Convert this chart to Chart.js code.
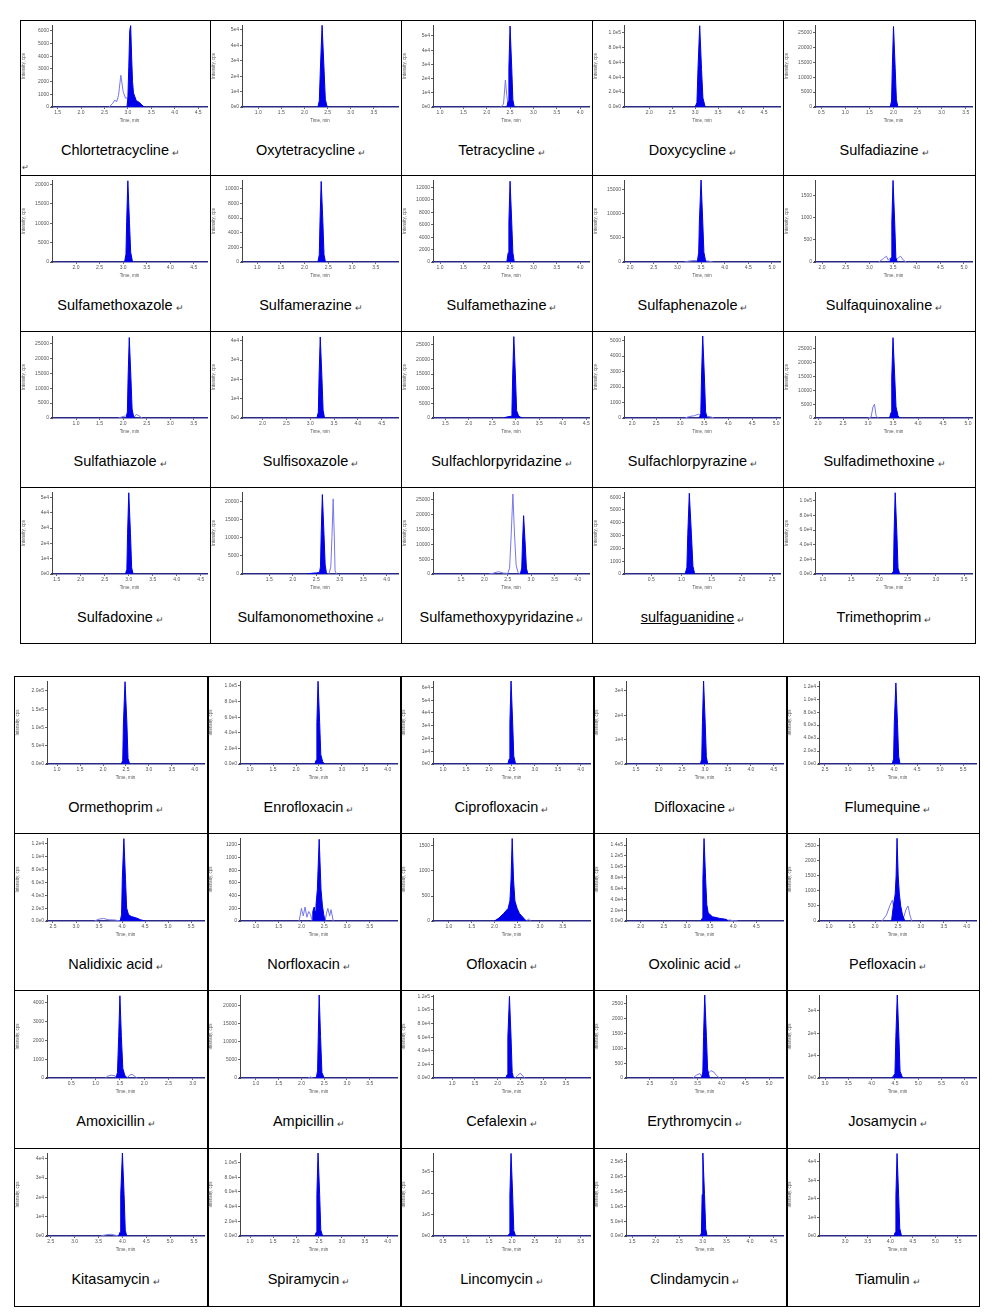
<!DOCTYPE html>
<html><head><meta charset="utf-8">
<script src="https://cdn.jsdelivr.net/npm/chart.js@4.4.1/dist/chart.umd.min.js"></script>
<style>
body{margin:0;background:#fff;width:997px;height:1314px;position:relative;overflow:hidden;font-family:"Liberation Sans",Arial,sans-serif}
.cell{position:absolute}
.cell canvas{position:absolute;left:1px;top:1px}
.lbl{position:absolute;left:0;right:0;text-align:center;font-size:14.5px;line-height:16px;color:#000;white-space:nowrap}
.nm{position:relative;display:inline-block}
.ret{position:absolute;left:100%;top:3px;font-size:9px;color:#444;margin-left:3px}
.ln{position:absolute;background:#000}
</style></head><body>
<script>
const chartNames=["Chlortetracycline","Oxytetracycline","Tetracycline","Doxycycline","Sulfadiazine",
"Sulfamethoxazole","Sulfamerazine","Sulfamethazine","Sulfaphenazole","Sulfaquinoxaline",
"Sulfathiazole","Sulfisoxazole","Sulfachlorpyridazine","Sulfachlorpyrazine","Sulfadimethoxine",
"Sulfadoxine","Sulfamonomethoxine","Sulfamethoxypyridazine","sulfaguanidine","Trimethoprim",
"Ormethoprim","Enrofloxacin","Ciprofloxacin","Difloxacine","Flumequine",
"Nalidixic acid","Norfloxacin","Ofloxacin","Oxolinic acid","Pefloxacin",
"Amoxicillin","Ampicillin","Cefalexin","Erythromycin","Josamycin",
"Kitasamycin","Spiramycin","Lincomycin","Clindamycin","Tiamulin"];

const xRanges=[[1.38,4.69],[0.65,4.02],[0.85,4.19],[1.45,4.85],[0.37,3.63],
[1.49,4.78],[0.68,3.97],[0.85,4.19],[1.87,5.17],[1.85,5.17],
[0.49,3.78],[1.57,4.84],[1.24,4.56],[1.83,5.08],[1.94,5.08],
[1.4,4.63],[0.92,4.24],[0.9,4.24],[0.05,2.63],[0.86,3.64],
[0.78,4.2],[0.78,4.2],[0.78,4.2],[1.28,4.7],[2.37,5.78],
[2.37,5.78],[0.65,4.1],[0.65,4.1],[1.68,5.08],[0.78,4.2],
[0,3.23],[0.65,4.1],[0.58,4.03],[2.0,5.29],[2.87,6.24],
[2.42,5.71],[0.78,4.2],[0.28,3.7],[1.37,4.7],[2.42,5.9]];

const xTicks=[[1.5,2,2.5,3,3.5,4,4.5],[1,1.5,2,2.5,3,3.5],[1,1.5,2,2.5,3,3.5,4],[2,2.5,3,3.5,4,4.5],[0.5,1,1.5,2,2.5,3,3.5],
[2,2.5,3,3.5,4,4.5],[1,1.5,2,2.5,3,3.5],[1,1.5,2,2.5,3,3.5,4],[2,2.5,3,3.5,4,4.5,5],[2,2.5,3,3.5,4,4.5,5],
[1,1.5,2,2.5,3,3.5],[2,2.5,3,3.5,4,4.5],[1.5,2,2.5,3,3.5,4,4.5],[2,2.5,3,3.5,4,4.5,5],[2,2.5,3,3.5,4,4.5,5],
[1.5,2,2.5,3,3.5,4,4.5],[1.5,2,2.5,3,3.5,4],[1.5,2,2.5,3,3.5,4],[0.5,1,1.5,2,2.5],[1,1.5,2,2.5,3,3.5],
[1,1.5,2,2.5,3,3.5,4],[1,1.5,2,2.5,3,3.5,4],[1,1.5,2,2.5,3,3.5,4],[1.5,2,2.5,3,3.5,4,4.5],[2.5,3,3.5,4,4.5,5,5.5],
[2.5,3,3.5,4,4.5,5,5.5],[1,1.5,2,2.5,3,3.5],[1,1.5,2,2.5,3,3.5],[2,2.5,3,3.5,4,4.5],[1,1.5,2,2.5,3,3.5,4],
[0.5,1,1.5,2,2.5,3],[1,1.5,2,2.5,3,3.5],[1,1.5,2,2.5,3,3.5],[2.5,3,3.5,4,4.5,5],[3,3.5,4,4.5,5,5.5,6],
[2.5,3,3.5,4,4.5,5,5.5],[1,1.5,2,2.5,3,3.5,4],[0.5,1,1.5,2,2.5,3,3.5],[1.5,2,2.5,3,3.5,4,4.5],[3,3.5,4,4.5,5,5.5]];

const yMaxes=[6450,53200,57700,110000,27500,
21200,11200,13200,17000,1840,
27500,42500,28000,5300,29600,
53500,22700,27700,6400,112000,
227000,106400,65000,34000,12800,
12900,1310,1660,153000,2760,
4400,23000,122000,2800,37000,
43000,113000,387000,280000,44800];

const yTicks=[[0,1000,2000,3000,4000,5000,6000],[0,1e4,2e4,3e4,4e4,5e4],[0,1e4,2e4,3e4,4e4,5e4],[0,2e4,4e4,6e4,8e4,1e5],[0,5000,10000,15000,20000,25000],
[0,5000,10000,15000,20000],[0,2000,4000,6000,8000,10000],[0,2000,4000,6000,8000,10000,12000],[0,5000,10000,15000],[0,500,1000,1500],
[0,5000,10000,15000,20000,25000],[0,1e4,2e4,3e4,4e4],[0,5000,10000,15000,20000,25000],[0,1000,2000,3000,4000,5000],[0,5000,10000,15000,20000,25000],
[0,1e4,2e4,3e4,4e4,5e4],[0,5000,10000,15000,20000],[0,5000,10000,15000,20000,25000],[0,1000,2000,3000,4000,5000,6000],[0,2e4,4e4,6e4,8e4,1e5],
[0,5e4,1e5,1.5e5,2e5],[0,2e4,4e4,6e4,8e4,1e5],[0,1e4,2e4,3e4,4e4,5e4,6e4],[0,1e4,2e4,3e4],[0,2000,4000,6000,8000,10000,12000],
[0,2000,4000,6000,8000,10000,12000],[0,200,400,600,800,1000,1200],[0,500,1000,1500],[0,2e4,4e4,6e4,8e4,1e5,1.2e5,1.4e5],[0,500,1000,1500,2000,2500],
[0,1000,2000,3000,4000],[0,5000,10000,15000,20000],[0,2e4,4e4,6e4,8e4,1e5,1.2e5],[0,500,1000,1500,2000,2500],[0,1e4,2e4,3e4],
[0,1e4,2e4,3e4,4e4],[0,2e4,4e4,6e4,8e4,1e5],[0,1e5,2e5,3e5],[0,5e4,1e5,1.5e5,2e5,2.5e5],[0,1e4,2e4,3e4,4e4]];

const yLabels=[["0","1000","2000","3000","4000","5000","6000"],["0e0","1e4","2e4","3e4","4e4","5e4"],["0e0","1e4","2e4","3e4","4e4","5e4"],["0.0e0","2.0e4","4.0e4","6.0e4","8.0e4","1.0e5"],["0","5000","10000","15000","20000","25000"],
["0","5000","10000","15000","20000"],["0","2000","4000","6000","8000","10000"],["0","2000","4000","6000","8000","10000","12000"],["0","5000","10000","15000"],["0","500","1000","1500"],
["0","5000","10000","15000","20000","25000"],["0e0","1e4","2e4","3e4","4e4"],["0","5000","10000","15000","20000","25000"],["0","1000","2000","3000","4000","5000"],["0","5000","10000","15000","20000","25000"],
["0e0","1e4","2e4","3e4","4e4","5e4"],["0","5000","10000","15000","20000"],["0","5000","10000","15000","20000","25000"],["0","1000","2000","3000","4000","5000","6000"],["0.0e0","2.0e4","4.0e4","6.0e4","8.0e4","1.0e5"],
["0.0e0","5.0e4","1.0e5","1.5e5","2.0e5"],["0.0e0","2.0e4","4.0e4","6.0e4","8.0e4","1.0e5"],["0e0","1e4","2e4","3e4","4e4","5e4","6e4"],["0e0","1e4","2e4","3e4"],["0.0e0","2.0e3","4.0e3","6.0e3","8.0e3","1.0e4","1.2e4"],
["0.0e0","2.0e3","4.0e3","6.0e3","8.0e3","1.0e4","1.2e4"],["0","200","400","600","800","1000","1200"],["0","500","1000","1500"],["0.0e0","2.0e4","4.0e4","6.0e4","8.0e4","1.0e5","1.2e5","1.4e5"],["0","500","1000","1500","2000","2500"],
["0","1000","2000","3000","4000"],["0","5000","10000","15000","20000"],["0.0e0","2.0e4","4.0e4","6.0e4","8.0e4","1.0e5","1.2e5"],["0","500","1000","1500","2000","2500"],["0e0","1e4","2e4","3e4"],
["0e0","1e4","2e4","3e4","4e4"],["0.0e0","2.0e4","4.0e4","6.0e4","8.0e4","1.0e5"],["0e0","1e5","2e5","3e5"],["0.0e0","5.0e4","1.0e5","1.5e5","2.0e5","2.5e5"],["0e0","1e4","2e4","3e4","4e4"]];

// filled (quantified) peak traces: [time, intensity]
const filledPeaks=[
[[2.98,0],[3.0,700],[3.02,3200],[3.04,6000],[3.06,6400],[3.08,4000],[3.1,2000],[3.12,1100],[3.18,500],[3.25,350],[3.3,150],[3.35,0]],
[[2.29,0],[2.32,4000],[2.345,26000],[2.38,53000],[2.42,26000],[2.45,5000],[2.49,0]],
[[2.43,0],[2.46,4000],[2.475,28000],[2.50,57000],[2.535,28000],[2.56,5000],[2.59,0]],
[[3.0,0],[3.04,6000],[3.065,55000],[3.10,109000],[3.14,50000],[3.17,12000],[3.22,0]],
[[1.93,0],[1.96,2000],[1.975,13000],[2.00,27000],[2.035,13000],[2.06,2500],[2.09,0]],
[[3.03,0],[3.06,2000],[3.075,10500],[3.10,21000],[3.135,10000],[3.16,2500],[3.2,0]],
[[2.28,0],[2.31,1000],[2.325,5500],[2.35,11000],[2.385,5500],[2.41,1000],[2.44,0]],
[[2.43,0],[2.46,1500],[2.475,6500],[2.50,13000],[2.535,6500],[2.56,1500],[2.59,0]],
[[3.42,0],[3.45,2000],[3.465,8500],[3.50,17000],[3.535,8500],[3.56,2000],[3.6,0]],
[[3.43,0],[3.46,100],[3.475,900],[3.50,1830],[3.535,900],[3.56,100],[3.59,0]],
[[2.06,0],[2.09,2000],[2.105,13500],[2.13,27000],[2.165,13500],[2.19,3000],[2.22,600],[2.26,0]],
[[3.14,0],[3.17,3000],[3.185,21000],[3.21,42000],[3.245,21000],[3.27,4000],[3.3,0]],
[[2.75,0],[2.8,300],[2.9,600],[2.92,2500],[2.935,14000],[2.96,27800],[2.995,14000],[3.02,2500],[3.06,800],[3.1,300],[3.15,0]],
[[3.40,0],[3.43,300],[3.445,2650],[3.47,5300],[3.505,2650],[3.53,400],[3.56,0]],
[[3.43,0],[3.46,2000],[3.475,14500],[3.50,29000],[3.535,14500],[3.56,4000],[3.6,800],[3.64,0]],
[[2.93,0],[2.96,3000],[2.975,26500],[3.0,53000],[3.035,26500],[3.06,4000],[3.09,0]],
[[2.3,0],[2.4,200],[2.5,300],[2.57,400],[2.59,2000],[2.605,11000],[2.63,22000],[2.665,11000],[2.69,2500],[2.72,0]],
[[2.77,0],[2.80,2000],[2.815,9800],[2.84,19700],[2.875,9800],[2.9,2000],[2.93,0]],
[[1.06,0],[1.09,500],[1.105,3100],[1.13,6300],[1.165,3100],[1.19,600],[1.22,0]],
[[2.22,0],[2.25,4000],[2.26,55000],[2.28,111000],[2.31,55000],[2.33,8000],[2.36,0]],
[[2.40,0],[2.43,10000],[2.445,112000],[2.48,225000],[2.52,112000],[2.545,15000],[2.58,0]],
[[2.41,0],[2.44,5000],[2.455,53000],[2.48,106000],[2.515,53000],[2.54,12000],[2.58,3000],[2.62,0]],
[[2.41,0],[2.44,4000],[2.455,32500],[2.48,65000],[2.515,32500],[2.54,6000],[2.58,0]],
[[2.90,0],[2.93,2000],[2.945,17000],[2.97,34000],[3.005,17000],[3.03,3000],[3.06,0]],
[[3.96,0],[3.99,800],[4.005,6250],[4.04,12500],[4.075,6250],[4.1,1200],[4.13,0]],
[[3.96,0],[3.99,1000],[4.005,6400],[4.04,12800],[4.075,6400],[4.1,2000],[4.14,1000],[4.2,700],[4.3,500],[4.4,200],[4.5,0]],
[[2.24,0],[2.25,150],[2.28,220],[2.3,150],[2.32,250],[2.35,500],[2.37,900],[2.39,1290],[2.41,900],[2.43,500],[2.46,250],[2.49,100],[2.52,0]],
[[2.0,0],[2.1,60],[2.2,150],[2.3,250],[2.34,400],[2.365,820],[2.39,1650],[2.42,820],[2.45,400],[2.5,250],[2.55,150],[2.65,50],[2.7,0]],
[[3.3,0],[3.33,5000],[3.345,76000],[3.37,152000],[3.405,76000],[3.43,30000],[3.46,15000],[3.55,8000],[3.7,5000],[3.85,3000],[3.9,0]],
[[2.36,0],[2.4,500],[2.44,900],[2.46,1500],[2.48,2750],[2.505,1500],[2.53,900],[2.56,500],[2.6,200],[2.65,0]],
[[1.42,0],[1.45,300],[1.475,2200],[1.5,4360],[1.53,2200],[1.56,500],[1.6,150],[1.65,0]],
[[2.3,0],[2.33,300],[2.355,2000],[2.37,11500],[2.39,23000],[2.42,11500],[2.45,1500],[2.5,0]],
[[2.18,0],[2.21,5000],[2.225,60000],[2.26,120000],[2.295,60000],[2.32,8000],[2.35,0]],
[[3.58,0],[3.61,200],[3.625,1400],[3.65,2800],[3.685,1400],[3.71,300],[3.75,0]],
[[4.42,0],[4.46,600],[4.5,2000],[4.52,18500],[4.55,37000],[4.585,18500],[4.61,3000],[4.65,800],[4.68,0]],
[[3.92,0],[3.95,2000],[3.965,21500],[4.0,43000],[4.035,21500],[4.06,3000],[4.09,0]],
[[2.41,0],[2.44,5000],[2.455,56500],[2.48,113000],[2.515,56500],[2.54,8000],[2.58,0]],
[[1.91,0],[1.94,10000],[1.955,192000],[1.98,385000],[2.015,192000],[2.04,25000],[2.08,0]],
[[2.94,0],[2.97,10000],[2.985,140000],[3.0,280000],[3.035,140000],[3.06,25000],[3.09,0]],
[[4.08,0],[4.11,2000],[4.125,22000],[4.15,44500],[4.185,22000],[4.21,4000],[4.25,0]]];

// unfilled (other transition) traces; null breaks the line
const outlineTraces=[
[[2.6,0],[2.68,300],[2.72,550],[2.76,400],[2.8,900],[2.85,2500],[2.9,1200],[2.95,700],[3.0,700]],
[],
[[2.30,0],[2.36,2000],[2.40,19000],[2.43,8000],[2.46,2000],[2.48,0]],
[],[],[],[],[],
[[3.15,0],[3.25,200],[3.35,300],[3.42,250],[3.44,null],[3.58,250],[3.65,200],[3.75,0]],
[[3.2,0],[3.3,80],[3.36,130],[3.4,40],[3.44,90],[3.46,null],[3.56,40],[3.62,100],[3.66,130],[3.72,40],[3.78,0]],
[[1.9,0],[2.0,500],[2.05,700],[2.07,null],[2.22,0],[2.28,1200],[2.35,600],[2.4,0]],
[],[],
[[3.1,0],[3.2,100],[3.3,150],[3.38,250],[3.41,200],[3.43,null],[3.54,150],[3.58,100],[3.65,60],[3.7,0]],
[[3.0,0],[3.06,300],[3.1,4000],[3.13,5000],[3.16,1000],[3.2,0]],
[],
[[2.77,0],[2.81,2000],[2.835,10400],[2.86,20800],[2.885,10000],[2.9,1000],[2.93,0]],
[[2.1,0],[2.2,300],[2.3,800],[2.4,300],[2.5,200],[2.54,2000],[2.575,13500],[2.61,27000],[2.645,13500],[2.68,3000],[2.72,500],[2.76,0]],
[],[],[],[],[],[],[],
[[3.4,0],[3.5,300],[3.6,400],[3.7,200],[3.85,150],[3.96,0]],
[[1.95,0],[2.0,200],[2.04,80],[2.08,220],[2.12,60],[2.16,150],[2.2,100],[2.24,0],[2.3,null],[2.52,0],[2.55,120],[2.58,200],[2.62,80],[2.65,180],[2.7,0]],
[[2.7,0],[2.75,40],[2.8,0]],
[[3.85,0],[3.92,2000],[4.0,500],[4.1,0]],
[[2.15,0],[2.25,200],[2.32,500],[2.38,700],[2.4,500],[2.5,null],[2.62,100],[2.68,400],[2.72,500],[2.76,200],[2.8,0]],
[[1.2,0],[1.25,100],[1.32,150],[1.4,120],[1.42,0],[1.5,null],[1.65,0],[1.7,150],[1.75,200],[1.8,100],[1.85,0]],
[[2.15,0],[2.2,300],[2.25,0]],
[[2.38,0],[2.44,4000],[2.5,7000],[2.55,3000],[2.6,0]],
[[3.4,0],[3.48,100],[3.55,150],[3.58,50],[3.65,null],[3.72,150],[3.78,250],[3.84,200],[3.9,80],[3.96,0]],
[],
[[3.55,0],[3.65,600],[3.75,900],[3.85,400],[3.92,0]],
[],[],[],[]];

// ---- layout ----
const topCols=[20,210,401,592,783,975], topRows=[20,175,331,487,643];
const botCols=[14,207,400,593,786,979], botRows=[676,833,990,1148,1306];

function hline(x1,x2,y,w){const d=document.createElement('div');d.className='ln';d.style.cssText=`left:${x1}px;top:${y}px;width:${x2-x1+1}px;height:${w}px`;document.body.appendChild(d);}
function vline(x,y1,y2,w){const d=document.createElement('div');d.className='ln';d.style.cssText=`left:${x}px;top:${y1}px;width:${w}px;height:${y2-y1+1}px`;document.body.appendChild(d);}
topRows.forEach(y=>hline(20,975,y,1)); topCols.forEach(x=>vline(x,20,643,1));
botRows.forEach(y=>hline(14,979,y,1)); botCols.forEach((x,k)=>vline(x,676,1306,(k==0||k==5)?1:2));

const BLUE='rgb(0,0,232)', LIGHT='rgb(118,118,236)';

function makeChart(i){
  const top=i<20, k=top?i:i-20, c=k%5, r=Math.floor(k/5);
  const cols=top?topCols:botCols, rows=top?topRows:botRows;
  const x0=cols[c], y0=rows[r], w=cols[c+1]-x0-2;
  const cell=document.createElement('div'); cell.className='cell';
  cell.style.cssText=`left:${x0}px;top:${y0}px;width:${cols[c+1]-x0}px;height:${rows[r+1]-y0}px`;
  const cv=document.createElement('canvas'); const H=top?103:104;
  cv.width=w; cv.height=H; cv.style.width=w+'px'; cv.style.height=H+'px';
  cell.appendChild(cv);
  const lb=document.createElement('div'); lb.className='lbl'; lb.style.top=(top?122:123)+'px';
  const t=document.createElement('span'); t.className='nm'; t.textContent=chartNames[i];
  if(chartNames[i]==='sulfaguanidine'){t.style.textDecoration='underline';}
  const rt=document.createElement('span'); rt.className='ret'; rt.textContent='↵';
  t.appendChild(rt); lb.appendChild(t); cell.appendChild(lb);
  if(i===0){const m=document.createElement('div');m.style.cssText='position:absolute;left:2px;top:143px;font-size:8px;color:#444';m.textContent='↵';cell.appendChild(m);}
  document.body.appendChild(cell);
  const ds=[{data:filledPeaks[i].map(p=>({x:p[0],y:p[1]})),borderColor:BLUE,backgroundColor:BLUE,fill:'origin',borderWidth:1,pointRadius:0,tension:0}];
  if(outlineTraces[i].length) ds.push({data:outlineTraces[i].map(p=>({x:p[0],y:p[1]})),borderColor:LIGHT,fill:false,borderWidth:1,pointRadius:0,tension:0,spanGaps:false});
  const small={size:5,family:'"Liberation Sans",Arial,sans-serif'};
  new Chart(cv,{type:'line',data:{datasets:ds},options:{
    animation:false,responsive:false,devicePixelRatio:1,
    layout:{padding:{top:4,right:2,left:0,bottom:0}},
    plugins:{legend:{display:false},tooltip:{enabled:false}},
    scales:{
      x:{type:'linear',min:xRanges[i][0],max:xRanges[i][1],
        afterBuildTicks:s=>{s.ticks=xTicks[i].map(v=>({value:v}));},
        ticks:{font:small,color:'#555',padding:1,maxRotation:0,autoSkip:false,callback:v=>Number(v).toFixed(1)},
        grid:{display:true,drawOnChartArea:false,tickLength:2,color:'#666'},
        border:{color:'#2b2b86',width:1.5},
        title:{display:true,text:'Time, min',font:{size:4.5,family:small.family},color:'#555',padding:{top:0,bottom:1}},
        afterFit:s=>{s.height=17;}},
      y:{type:'linear',min:0,max:yMaxes[i],
        afterBuildTicks:s=>{s.ticks=yTicks[i].map(v=>({value:v}));},
        ticks:{font:small,color:'#555',padding:1,autoSkip:false,callback:(v,idx)=>yLabels[i][idx]},
        grid:{display:true,drawOnChartArea:false,tickLength:2,color:'#666'},
        border:{color:'#444',width:1},
        title:{display:true,text:'Intensity, cps',font:{size:4.5,family:small.family},color:'#555',padding:{top:0,bottom:0}},
        afterFit:s=>{s.width=top?31:32;}}
    }}});
}
for(let i=0;i<40;i++) makeChart(i);
</script>
</body></html>
